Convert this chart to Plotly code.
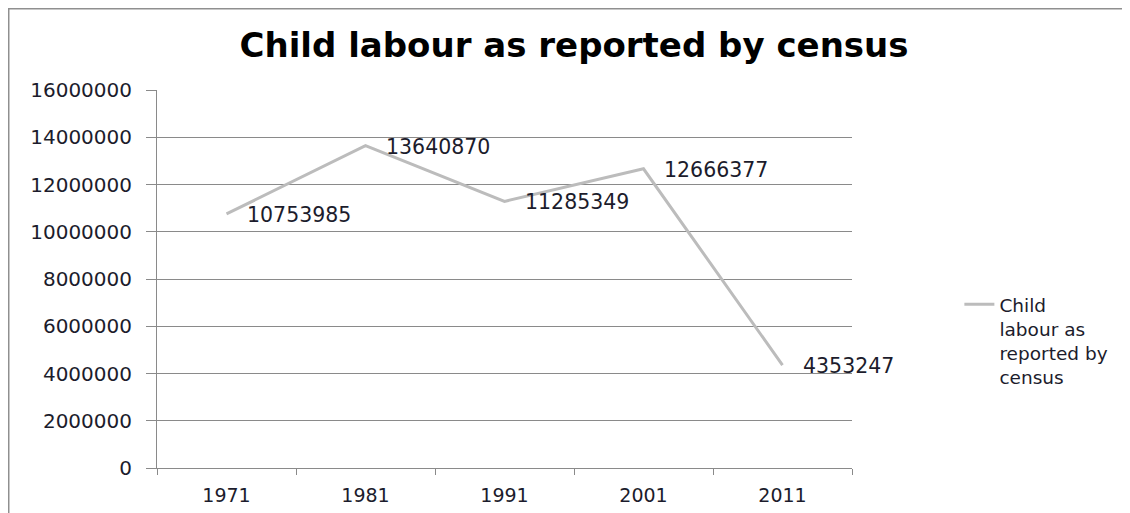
import plotly.graph_objects as go

years = ["1971", "1981", "1991", "2001", "2011"]
child_labour = [10753985, 13640870, 11285349, 12666377, 4353247]
y_ticks = [0, 2000000, 4000000, 6000000, 8000000, 10000000, 12000000, 14000000, 16000000]
series_name = "Child<br>labour as<br>reported by<br>census"
title_text = "Child labour as reported by census"

FONT = "DejaVu Sans"
TXT = "#1c1c2c"
GRID = "#8a8a8a"

fig = go.Figure()
fig.add_trace(go.Scatter(
    x=years, y=child_labour, mode="lines", name=series_name,
    line=dict(color="#bcbcbc", width=3),
))

for i, v in enumerate(child_labour):
    fig.add_annotation(x=i, y=v, text=str(v), showarrow=False,
                       xanchor="left", yanchor="middle", xshift=18, yshift=-1,
                       font=dict(family=FONT, size=20.5, color=TXT))

fig.add_shape(type="rect", xref="paper", yref="paper",
              x0=-0.2144, y0=-1, x1=3, y1=1.217,
              line=dict(color="#8f8f8f", width=3), fillcolor="rgba(0,0,0,0)", layer="below")

fig.update_layout(
    width=1122, height=505,
    margin=dict(l=149, r=278, t=82, b=45, autoexpand=False),
    paper_bgcolor="white", plot_bgcolor="white",
    title=dict(text="<b>" + title_text + "</b>", x=0.5045, xanchor="center",
               y=0.927, yanchor="middle", yref="container",
               font=dict(family=FONT, size=34, color="black")),
    showlegend=True,
    legend=dict(x=1.1545, xanchor="left", y=0.482, yanchor="top",
                valign="top", font=dict(family=FONT, size=18.5, color=TXT),
                bgcolor="rgba(0,0,0,0)"),
    xaxis=dict(type="category", range=[-0.5, 4.5], showgrid=False, automargin=False,
               showline=True, linecolor=GRID, linewidth=1,
               ticks="outside", tickson="boundaries", ticklen=6, tickcolor=GRID,
               ticklabelstandoff=10,
               tickfont=dict(family=FONT, size=19, color=TXT), zeroline=False),
    yaxis=dict(range=[0, 16000000], tickvals=y_ticks, automargin=False,
               ticktext=[str(t) for t in y_ticks],
               showgrid=True, gridcolor=GRID, gridwidth=1,
               showline=True, linecolor=GRID, linewidth=1,
               ticks="outside", ticklen=10, tickcolor=GRID,
               ticklabelstandoff=10,
               tickfont=dict(family=FONT, size=20, color=TXT), zeroline=False),
)

fig.write_html("out.html")
